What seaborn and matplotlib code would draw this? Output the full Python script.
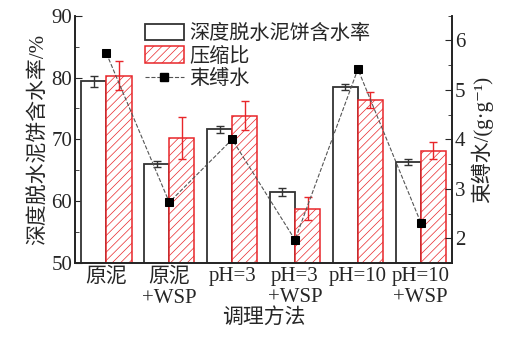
import numpy as np
import pandas as pd
import seaborn as sns
import matplotlib.pyplot as plt
from matplotlib.ticker import MultipleLocator
from matplotlib.lines import Line2D
from matplotlib.patches import Patch

# %% data

methods = ['原泥', '原泥\n+WSP', 'pH=3', 'pH=3\n+WSP', 'pH=10', 'pH=10\n+WSP']
moisture = [79.4, 66.0, 71.6, 61.5, 78.5, 66.3]       # 深度脱水泥饼含水率 (%)
moisture_err = [0.9, 0.5, 0.6, 0.6, 0.5, 0.5]
compress = [80.3, 70.3, 73.8, 58.8, 76.3, 68.2]       # 压缩比
compress_err = [2.3, 3.4, 2.35, 1.85, 1.3, 1.35]
bound_water = [5.74, 2.73, 4.00, 1.97, 5.42, 2.32]    # 束缚水 (g/g)

s1 = '深度脱水泥饼含水率'
s2 = '压缩比'
s3 = '束缚水'

# %% style

sns.set_style("ticks")
fam = ['Liberation Serif', 'Noto Sans CJK SC', 'DejaVu Sans']
plt.rcParams['font.family'] = fam
plt.rcParams['font.size'] = 15
plt.rcParams['hatch.linewidth'] = 0.5
plt.rcParams['hatch.color'] = '#ef8080'
plt.rcParams['xtick.direction'] = 'in'
plt.rcParams['ytick.direction'] = 'in'

black = '#333333'
red = '#e8262a'

df = pd.DataFrame({
    'method': methods * 2,
    'value': moisture + compress,
    'series': [s1] * 6 + [s2] * 6,
})

# %% plot

fig = plt.figure(figsize=(5.24, 3.4), dpi=100)
ax = fig.add_axes([0.143, 0.226, 0.72, 0.728])

sns.barplot(data=df, x='method', y='value', hue='series', ax=ax,
            palette=['white', 'white'], errorbar=None, width=0.8,
            saturation=1, legend=False)

for bar in ax.containers[0]:
    bar.set_edgecolor(black)
    bar.set_linewidth(1.3)
for bar in ax.containers[1]:
    bar.set_edgecolor(red)
    bar.set_linewidth(1.1)
    bar.set_hatch('////')

x = np.arange(len(methods))
ax.errorbar(x - 0.2, moisture, yerr=moisture_err, fmt='none', ecolor=black,
            elinewidth=1.0, capsize=3, capthick=1.0)
ax.errorbar(x + 0.2, compress, yerr=compress_err, fmt='none', ecolor=red,
            elinewidth=1.0, capsize=3, capthick=1.0)

ax.set_ylim(50, 90)
ax.set_xlim(-0.5, 5.5)
ax.yaxis.set_major_locator(MultipleLocator(10))
ax.yaxis.set_minor_locator(MultipleLocator(5))
ax.tick_params(axis='y', which='major', length=5, labelsize=15, pad=2)
ax.tick_params(axis='y', which='minor', length=3)
ax.tick_params(axis='x', length=0, labelsize=15, pad=3)
for lab in ax.get_xticklabels():
    lab.set_linespacing(1.15)
ax.set_xlabel('调理方法', fontsize=15, labelpad=0)
ax.set_ylabel('深度脱水泥饼含水率/%', fontsize=15, labelpad=2)

ax2 = ax.twinx()
sns.lineplot(x=x, y=bound_water, ax=ax2, color='#555555', linestyle='--',
             linewidth=0.8, marker='s', markersize=5.5, markerfacecolor='black',
             markeredgecolor='black')
ax2.set_ylim(1.5, 6.5)
ax2.yaxis.set_major_locator(MultipleLocator(1))
ax2.yaxis.set_minor_locator(MultipleLocator(0.5))
ax2.tick_params(axis='y', which='major', length=5, labelsize=15, pad=2)
ax2.tick_params(axis='y', which='minor', length=3)
ax2.set_ylabel('束缚水/(g·g⁻¹)', fontsize=15, labelpad=4, family=fam)

for a in (ax, ax2):
    a.spines['top'].set_visible(False)
    for sp in ('left', 'right', 'bottom'):
        a.spines[sp].set_linewidth(1.2)
        a.spines[sp].set_color('#222222')

handles = [
    Patch(facecolor='white', edgecolor=black, linewidth=1.3),
    Patch(facecolor='white', edgecolor=red, hatch='////', linewidth=1.1),
    Line2D([0], [0], color='#555555', linestyle='--', linewidth=0.8,
           marker='s', markersize=5.5, markerfacecolor='black', markeredgecolor='black'),
]
ax2.legend(handles, [s1, s2, s3], loc='upper left', bbox_to_anchor=(0.165, 1.0),
           frameon=False, fontsize=14.5, handlelength=1.9, handleheight=0.9,
           handletextpad=0.3, labelspacing=0.12, borderaxespad=0)

fig.savefig('out.png', dpi=100)
